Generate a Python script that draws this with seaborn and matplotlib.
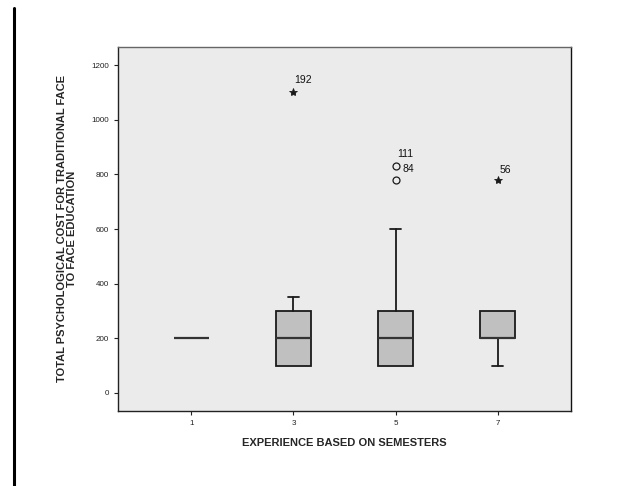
import matplotlib
matplotlib.use("Agg")
import matplotlib.pyplot as plt
import seaborn as sns
import pandas as pd

# ---- data ----
semesters = ["1", "3", "5", "7"]
q1 = [200, 100, 100, 200]
median = [200, 200, 200, 200]
q3 = [200, 300, 300, 300]
whisker_low = [200, 100, 100, 100]
whisker_high = [200, 350, 600, 300]

outlier_group = ["3", "5", "5", "7"]
outlier_value = [1100, 830, 780, 780]
outlier_kind = ["extreme", "outlier", "outlier", "extreme"]
outlier_label = ["192", "111", "84", "56"]

y_ticks = [0, 200, 400, 600, 800, 1000, 1200]

sns.set_style("white")
plt.rcParams["font.family"] = ["Liberation Sans", "DejaVu Sans"]

fig = plt.figure(figsize=(6.27, 4.86), dpi=100)
ax = fig.add_axes([118 / 627, 1 - 411 / 486, (571 - 118) / 627, (411 - 47) / 486])
ax.set_facecolor("#ebebeb")

stats = []
for i, s in enumerate(semesters):
    stats.append(dict(label=s, q1=q1[i], med=median[i], q3=q3[i],
                      whislo=whisker_low[i], whishi=whisker_high[i], fliers=[]))
art = ax.bxp(stats, positions=range(len(semesters)), widths=0.34, patch_artist=True,
             showfliers=False,
             boxprops=dict(facecolor="#c0c0c0", edgecolor="#1a1a1a", linewidth=1.3),
             medianprops=dict(color="#333333", linewidth=1.6),
             whiskerprops=dict(color="#1a1a1a", linewidth=1.3),
             capprops=dict(color="#1a1a1a", linewidth=1.3),
             capwidths=0.1)
# hide caps of zero-length whiskers
for i in range(len(semesters)):
    if whisker_low[i] == q1[i]:
        art["caps"][2 * i].set_visible(False)
    if whisker_high[i] == q3[i]:
        art["caps"][2 * i + 1].set_visible(False)

df = pd.DataFrame({"group": outlier_group, "value": outlier_value,
                   "kind": outlier_kind, "label": outlier_label})
df["pos"] = df["group"].map({s: i for i, s in enumerate(semesters)})
ext = df[df["kind"] == "extreme"]
out = df[df["kind"] == "outlier"]
ax.plot(ext["pos"], ext["value"], linestyle="none", marker="*", markersize=6,
        color="#1a1a1a", markeredgewidth=0.6)
ax.plot(out["pos"], out["value"], linestyle="none", marker="o", markersize=5,
        markerfacecolor="none", markeredgecolor="#1a1a1a", markeredgewidth=0.9)

label_pos = {"192": (0.01, 1145), "111": (0.02, 875), "84": (0.07, 820), "56": (0.02, 816)}
for _, r in df.iterrows():
    dx, yv = label_pos[r["label"]]
    ax.text(r["pos"] + dx, yv, r["label"], fontsize=7.5,
            ha="left", va="center", color="#111111")

ax.set_xlim(-0.72, 3.72)
ax.set_ylim(-66, 1266)
ax.set_xticks(range(len(semesters)))
ax.set_xticklabels(semesters)
ax.set_yticks(y_ticks)
ax.tick_params(axis="both", labelsize=5.8, length=3, width=0.8, colors="#222222",
               left=True, bottom=True)
for side in ["left", "bottom"]:
    ax.spines[side].set_color("#222222")
    ax.spines[side].set_linewidth(1.0)
ax.spines["top"].set_color("#666666")
ax.spines["right"].set_color("#111111")
ax.spines["top"].set_linewidth(1.0)
ax.spines["right"].set_linewidth(1.0)

ax.set_xlabel("EXPERIENCE BASED ON SEMESTERS", fontsize=8, fontweight="bold",
              labelpad=8)
ax.set_ylabel("TOTAL PSYCHOLOGICAL COST FOR TRADITIONAL FACE\nTO FACE EDUCATION",
              fontsize=8, fontweight="bold", linespacing=1.0, labelpad=10)

fig.add_artist(plt.Line2D([14 / 627, 14 / 627], [0, 1 - 8 / 486], color="black",
                          linewidth=2.2, transform=fig.transFigure))

fig.savefig("out.png", dpi=100)
